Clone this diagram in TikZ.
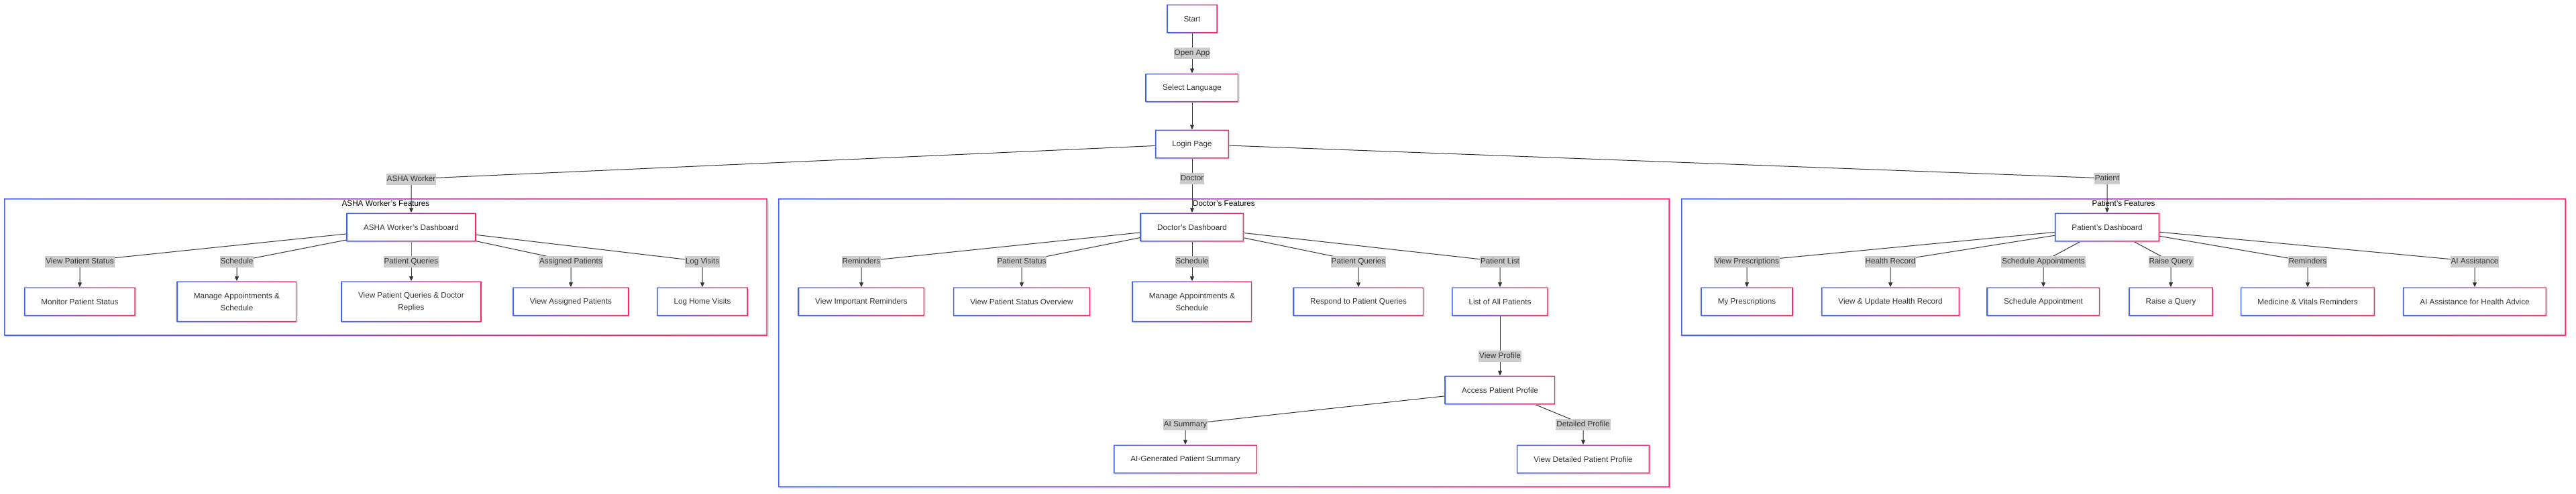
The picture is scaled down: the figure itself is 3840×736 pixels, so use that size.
\documentclass[tikz,border=0pt]{standalone}
\usepackage{fontspec}
\setmainfont{Liberation Sans}
\usetikzlibrary{arrows.meta, positioning, backgrounds, shadows}
\definecolor{gradblue}{RGB}{66, 103, 230}
\definecolor{gradpink}{RGB}{240, 45, 100}
\definecolor{textgray}{RGB}{51, 51, 51}
\definecolor{labelgray}{RGB}{204, 204, 204}
\definecolor{linkgray}{RGB}{51, 51, 51}

\tikzset{
    gradborder/.style={fill=white,
        path picture={\shade[left color=gradblue, right color=gradpink, even odd rule]
            (path picture bounding box.south west) rectangle (path picture bounding box.north east)
            ([shift={(1.6pt,1.6pt)}]path picture bounding box.south west) rectangle ([shift={(-1.6pt,-1.6pt)}]path picture bounding box.north east);}},
    softshadow/.style={drop shadow={shadow xshift=1.5pt, shadow yshift=-1.5pt, opacity=0.1, fill=black}}
}

\begin{document}
\begin{tikzpicture}[
    x=1pt, y=-1pt,
    every node/.style={font=\fontsize{11.7}{18}\selectfont, text=textgray},
    appbox/.style={gradborder, softshadow, minimum height=43pt, inner xsep=25.5pt, align=center},
    tallbox/.style={appbox, minimum height=61pt},
    cluster/.style={gradborder, softshadow, inner sep=0pt},
    clustertitle/.style={inner sep=0pt, text=black},
    edgelabel/.style={fill=labelgray, inner xsep=1pt, inner ysep=2.75pt, text height=9pt, text depth=2.5pt},
    link/.style={draw=linkgray, line width=1pt, -{Triangle[length=7pt, width=6pt]}}
]
    \useasboundingbox (0,0) rectangle (3840,736);

    % Feature groups (background)
    \begin{scope}[on background layer]
        \node[cluster, minimum width=1138pt, minimum height=205pt] (ashaGroup) at (575, 398.5) {};
        \node[cluster, minimum width=1329pt, minimum height=431pt] (docGroup) at (1824.5, 511.5) {};
        \node[cluster, minimum width=1319pt, minimum height=205pt] (patGroup) at (3165.5, 398.5) {};
    \end{scope}
    \node[clustertitle, below=3pt of ashaGroup.north] (ashaTitle) {ASHA Worker's Features};
    \node[clustertitle, below=3pt of docGroup.north] (docTitle) {Doctor's Features};
    \node[clustertitle, below=3pt of patGroup.north] (patTitle) {Patient's Features};

    % Entry flow (top)
    \node[appbox] (start) at (1777, 28) {Start};
    \node[appbox] (language) at (1777, 131) {Select Language};
    \node[appbox] (login) at (1777, 215) {Login Page};

    % Dashboards
    \node[appbox] (ashaDash) at (613, 339) {ASHA Worker's Dashboard};
    \node[appbox] (docDash) at (1777, 339) {Doctor's Dashboard};
    \node[appbox] (patDash) at (3141, 339) {Patient's Dashboard};

    % ASHA worker features
    \node[appbox] (monitor) at (119, 450) {Monitor Patient Status};
    \node[tallbox] (ashaAppt) at (353, 450) {Manage Appointments \&\\Schedule};
    \node[tallbox] (ashaQueries) at (613, 450) {View Patient Queries \& Doctor\\Replies};
    \node[appbox] (assigned) at (851, 450) {View Assigned Patients};
    \node[appbox] (homeVisits) at (1047, 450) {Log Home Visits};

    % Doctor features
    \node[appbox] (docRem) at (1284, 450) {View Important Reminders};
    \node[appbox] (statusView) at (1523, 450) {View Patient Status Overview};
    \node[tallbox] (docAppt) at (1777, 450) {Manage Appointments \&\\Schedule};
    \node[appbox] (respond) at (2025, 450) {Respond to Patient Queries};
    \node[appbox] (allPatients) at (2236, 450) {List of All Patients};
    \node[appbox] (access) at (2236, 582) {Access Patient Profile};
    \node[appbox] (aiSummary) at (1767, 685) {AI-Generated Patient Summary};
    \node[appbox] (detailProfile) at (2360, 685) {View Detailed Patient Profile};

    % Patient features
    \node[appbox] (prescriptions) at (2604, 450) {My Prescriptions};
    \node[appbox] (healthRecord) at (2818, 450) {View \& Update Health Record};
    \node[appbox] (schedAppt) at (3046, 450) {Schedule Appointment};
    \node[appbox] (raiseQuery) at (3236, 450) {Raise a Query};
    \node[appbox] (vitalsRem) at (3440, 450) {Medicine \& Vitals Reminders};
    \node[appbox] (aiAdvice) at (3689, 450) {AI Assistance for Health Advice};

    % Edge labels
    \node[edgelabel] (lOpen) at (1777, 79) {Open App};
    \node[edgelabel] (lAsha) at (613, 267) {ASHA Worker};
    \node[edgelabel] (lDoc) at (1777, 266) {Doctor};
    \node[edgelabel] (lPat) at (3141, 266) {Patient};

    \node[edgelabel] (lMonitor) at (119, 390) {View Patient Status};
    \node[edgelabel] (lAshaAppt) at (353, 390) {Schedule};
    \node[edgelabel] (lAshaQueries) at (613, 390) {Patient Queries};
    \node[edgelabel] (lAssigned) at (851, 390) {Assigned Patients};
    \node[edgelabel] (lVisits) at (1047, 390) {Log Visits};

    \node[edgelabel] (lDocRem) at (1284, 390) {Reminders};
    \node[edgelabel] (lStatus) at (1523, 390) {Patient Status};
    \node[edgelabel] (lDocAppt) at (1777, 390) {Schedule};
    \node[edgelabel] (lRespond) at (2025, 390) {Patient Queries};
    \node[edgelabel] (lList) at (2236, 390) {Patient List};
    \node[edgelabel] (lView) at (2236, 531) {View Profile};
    \node[edgelabel] (lSummary) at (1767, 633) {AI Summary};
    \node[edgelabel] (lDetail) at (2360, 633) {Detailed Profile};

    \node[edgelabel] (lPresc) at (2604, 390) {View Prescriptions};
    \node[edgelabel] (lHealth) at (2818, 390) {Health Record};
    \node[edgelabel] (lSched) at (3046, 390) {Schedule Appointments};
    \node[edgelabel] (lRaise) at (3236, 390) {Raise Query};
    \node[edgelabel] (lVitals) at (3440, 390) {Reminders};
    \node[edgelabel] (lAdvice) at (3689, 390) {AI Assistance};

    \begin{scope}[on background layer]
        % Connections - entry flow
        \draw[link] (start) -- (lOpen.center) -- (language);
        \draw[link] (language) -- (login);
        \draw[link] (login) -- (lAsha.center) -- (ashaDash);
        \draw[link] (login) -- (lDoc.center) -- (docDash);
        \draw[link] (login) -- (lPat.center) -- (patDash);

        % Connections - ASHA worker
        \draw[link] (ashaDash) -- (lMonitor.center) -- (monitor);
        \draw[link] (ashaDash) -- (lAshaAppt.center) -- (ashaAppt);
        \draw[link] (ashaDash) -- (lAshaQueries.center) -- (ashaQueries);
        \draw[link] (ashaDash) -- (lAssigned.center) -- (assigned);
        \draw[link] (ashaDash) -- (lVisits.center) -- (homeVisits);

        % Connections - doctor
        \draw[link] (docDash) -- (lDocRem.center) -- (docRem);
        \draw[link] (docDash) -- (lStatus.center) -- (statusView);
        \draw[link] (docDash) -- (lDocAppt.center) -- (docAppt);
        \draw[link] (docDash) -- (lRespond.center) -- (respond);
        \draw[link] (docDash) -- (lList.center) -- (allPatients);
        \draw[link] (allPatients) -- (lView.center) -- (access);
        \draw[link] (access) -- (lSummary.center) -- (aiSummary);
        \draw[link] (access) -- (lDetail.center) -- (detailProfile);

        % Connections - patient
        \draw[link] (patDash) -- (lPresc.center) -- (prescriptions);
        \draw[link] (patDash) -- (lHealth.center) -- (healthRecord);
        \draw[link] (patDash) -- (lSched.center) -- (schedAppt);
        \draw[link] (patDash) -- (lRaise.center) -- (raiseQuery);
        \draw[link] (patDash) -- (lVitals.center) -- (vitalsRem);
        \draw[link] (patDash) -- (lAdvice.center) -- (aiAdvice);
    \end{scope}

\end{tikzpicture}
\end{document}
